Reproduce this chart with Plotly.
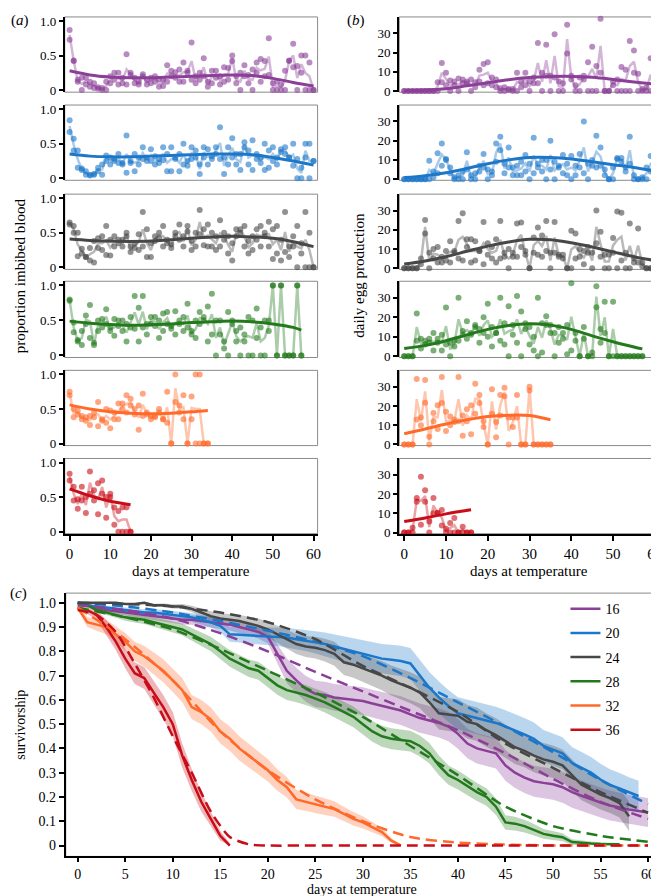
import plotly.graph_objects as go

# temperatures (deg C) and their colours
temps = [16, 20, 24, 28, 32, 36]
colours = ['#8b3f97', '#1c77c9', '#474747', '#237a1d', '#ff6a2b', '#c90d18']

# ---- panel (a): proportion imbibed blood, two observations per day ----
blood16_a = [0.87, 0.43, 0.12, 0.18, 0.08, 0.05, 0.03, 0.02, 0.0, 0.12, 0.2, 0.25, 0.08, 0.18, 0.52, 0.22, 0.1, 0.08, 0.2, 0.15,
             0.18, 0.12, 0.05, 0.15, 0.36, 0.2, 0.26, 0.3, 0.12, 0.25, 0.69, 0.2, 0.25, 0.46, 0.12, 0.28, 0.18, 0.2, 0.33, 0.15,
             0.5, 0.2, 0.0, 0.36, 0.22, 0.3, 0.4, 0.45, 0.2, 0.75, 0.1, 0.0, 0.08, 0.28, 0.43, 0.67, 0.35, 0.5, 0.5, 0.4, 0.0]
blood16_b = [0.73, 0.42, 0.15, 0.0, 0.18, 0.12, 0.1, 0.04, 0.03, 0.0, 0.1, 0.15, 0.25, 0.1, 0.08, 0.25, 0.18, 0.12, 0.23, 0.08,
             0.1, 0.2, 0.16, 0.06, 0.12, 0.28, 0.18, 0.12, 0.4, 0.28, 0.15, 0.1, 0.15, 0.2, 0.05, 0.1, 0.28, 0.08, 0.12, 0.32,
             0.42, 0.1, 0.25, 0.2, 0.1, 0.0, 0.25, 0.12, 0.42, 0.22, 0.0, 0.12, 0.0, 0.0, 0.42, 0.33, 0.0, 0.25, 0.0, 0.0, 0.0]
blood20_a = [0.84, 0.57, 0.4, 0.14, 0.05, 0.05, 0.06, 0.15, 0.2, 0.33, 0.3, 0.28, 0.35, 0.22, 0.62, 0.25, 0.1, 0.3, 0.45, 0.3,
             0.25, 0.32, 0.28, 0.45, 0.35, 0.45, 0.3, 0.1, 0.5, 0.25, 0.45, 0.3, 0.2, 0.45, 0.42, 0.28, 0.35, 0.74, 0.3, 0.45,
             0.58, 0.2, 0.35, 0.52, 0.4, 0.55, 0.28, 0.3, 0.5, 0.15, 0.45, 0.3, 0.38, 0.45, 0.3, 0.5, 0.28, 0.0, 0.5, 0.5, 0.25]
blood20_b = [0.67, 0.4, 0.15, 0.12, 0.1, 0.04, 0.05, 0.1, 0.05, 0.25, 0.2, 0.25, 0.22, 0.2, 0.08, 0.22, 0.35, 0.2, 0.28, 0.25,
             0.42, 0.2, 0.22, 0.26, 0.1, 0.1, 0.28, 0.35, 0.2, 0.18, 0.28, 0.4, 0.06, 0.3, 0.2, 0.32, 0.45, 0.28, 0.06, 0.2,
             0.3, 0.35, 0.12, 0.45, 0.2, 0.12, 0.35, 0.22, 0.12, 0.4, 0.25, 0.2, 0.42, 0.35, 0.3, 0.18, 0.0, 0.15, 0.3, 0.0, 0.25]
blood24_a = [0.65, 0.6, 0.5, 0.27, 0.15, 0.1, 0.07, 0.28, 0.45, 0.6, 0.17, 0.45, 0.35, 0.4, 0.5, 0.3, 0.35, 0.48, 0.8, 0.55,
             0.15, 0.45, 0.5, 0.6, 0.4, 0.33, 0.5, 0.62, 0.45, 0.6, 0.25, 0.5, 0.83, 0.55, 0.62, 0.3, 0.45, 0.68, 0.5, 0.45,
             0.1, 0.55, 0.5, 0.6, 0.2, 0.45, 0.55, 0.3, 0.45, 0.66, 0.55, 0.6, 0.1, 0.8, 0.3, 0.45, 0.6, 0.2, 0.8, 0.5, 0.0]
blood24_b = [0.62, 0.5, 0.16, 0.2, 0.15, 0.28, 0.38, 0.42, 0.25, 0.18, 0.4, 0.3, 0.4, 0.3, 0.45, 0.22, 0.28, 0.25, 0.3, 0.15,
             0.35, 0.38, 0.42, 0.3, 0.35, 0.28, 0.45, 0.4, 0.3, 0.52, 0.38, 0.3, 0.48, 0.32, 0.3, 0.5, 0.25, 0.3, 0.4, 0.2,
             0.35, 0.45, 0.55, 0.3, 0.38, 0.25, 0.4, 0.6, 0.5, 0.3, 0.12, 0.2, 0.4, 0.22, 0.15, 0.3, 0.0, 0.35, 0.0, 0.0, 0.0]
blood28_a = [0.8, 0.47, 0.22, 0.35, 0.57, 0.72, 0.18, 0.5, 0.52, 0.66, 0.4, 0.52, 0.5, 0.5, 0.2, 0.55, 0.85, 0.68, 0.85, 0.45,
             0.55, 0.55, 0.5, 0.6, 0.62, 0.42, 0.63, 0.5, 0.55, 0.74, 0.35, 0.5, 0.62, 0.55, 0.7, 0.88, 0.5, 0.3, 0.2, 0.62,
             0.5, 0.35, 0.4, 0.2, 0.55, 0.5, 0.67, 0.4, 0.5, 0.5, 1.0, 0.0, 1.0, 0.0, 0.0, 0.0, 1.0, 0.0]
blood28_b = [0.78, 0.33, 0.2, 0.15, 0.45, 0.25, 0.15, 0.35, 0.4, 0.45, 0.35, 0.28, 0.42, 0.35, 0.45, 0.4, 0.38, 0.2, 0.4, 0.3,
             0.45, 0.42, 0.25, 0.35, 0.45, 0.38, 0.3, 0.45, 0.35, 0.4, 0.3, 0.25, 0.45, 0.5, 0.2, 0.3, 0.0, 0.5, 0.1, 0.0,
             0.45, 0.2, 0.0, 0.3, 0.0, 0.0, 0.25, 0.0, 0.0, 0.35, 1.0, 0.0, 1.0, 0.0, 0.0, 0.0, 1.0, 0.0]
blood32_a = [0.75, 0.5, 0.48, 0.4, 0.38, 0.27, 0.45, 0.6, 0.33, 0.5, 0.22, 0.45, 0.35, 0.58, 0.7, 0.65, 0.5, 0.55, 0.72, 0.45,
             0.4, 0.4, 0.5, 0.35, 0.75, 0.0, 1.0, 0.55, 0.7, 0.0, 0.68, 1.0, 1.0, 0.0, 0.0]
blood32_b = [0.7, 0.38, 0.42, 0.35, 0.33, 0.4, 0.38, 0.25, 0.35, 0.3, 0.48, 0.35, 0.58, 0.5, 0.45, 0.55, 0.42, 0.2, 0.4, 0.42,
             0.35, 0.38, 0.45, 0.35, 0.3, 0.0, 0.6, 0.45, 0.35, 0.0, 0.35, 0.0, 0.0, 0.0, 0.0]
blood36_a = [0.84, 0.65, 0.33, 0.65, 0.27, 0.87, 0.6, 0.25, 0.74, 0.2, 0.55, 0.1, 0.0, 0.0, 0.0, 0.0]
blood36_b = [0.74, 0.45, 0.47, 0.45, 0.5, 0.55, 0.45, 0.7, 0.55, 0.5, 0.5, 0.35, 0.3, 0.35, 0.35, 0.0]

# smoothed fits (panel a)
fit_days = [0, 5, 10, 15, 20, 25, 30, 35, 40, 45, 50, 55, 60]
fit_days_28 = [0, 5, 10, 15, 20, 25, 30, 35, 40, 45, 50, 55, 57]
blood_fit_days_32 = [0, 5, 10, 15, 20, 25, 30, 34]
blood_fit_days_36 = [0, 5, 10, 15]
blood16_fit = [0.28, 0.22, 0.19, 0.18, 0.18, 0.19, 0.2, 0.21, 0.22, 0.21, 0.17, 0.11, 0.06]
blood20_fit = [0.35, 0.32, 0.31, 0.31, 0.32, 0.33, 0.34, 0.35, 0.35, 0.34, 0.3, 0.25, 0.19]
blood24_fit = [0.41, 0.39, 0.38, 0.375, 0.38, 0.4, 0.42, 0.44, 0.45, 0.44, 0.42, 0.37, 0.3]
blood28_fit = [0.49, 0.46, 0.44, 0.43, 0.44, 0.45, 0.47, 0.48, 0.49, 0.48, 0.45, 0.4, 0.36]
blood32_fit = [0.56, 0.5, 0.46, 0.44, 0.43, 0.44, 0.46, 0.48]
blood36_fit = [0.62, 0.52, 0.44, 0.39]

# ---- panel (b): daily egg production ----
eggs16_a = [0, 0, 0, 0, 0, 0, 0, 0, 4.5, 14.5, 9.5, 0, 5, 6.5, 6, 4, 0, 2, 11, 14, 15, 7, 2, 1.5, 0, 0.5, 1, 9.5, 2, 9.5,
            5, 7, 25, 9.5, 24, 8, 29.5, 5, 0, 34.5, 6, 0, 7, 6, 15, 23, 13, 37.5, 0, 0, 5, 0, 12.5, 0, 26, 21, 9, 0, 2, 17, 0]
eggs16_b = [0, 0, 0, 0, 0, 0, 0, 0, 0, 4.5, 3, 5.5, 3, 0, 4, 5, 6, 4.5, 5, 3, 4, 3, 6, 0, 2, 1, 0, 0, 5, 3,
            0, 4, 4, 0, 8, 0, 7, 0, 4, 19.5, 8, 3, 0, 8, 0, 0, 0, 9.5, 0, 0, 3, 6, 0, 11, 0, 9.5, 0, 1, 0, 0, 0]
eggs20_a = [0, 0, 0, 0, 0, 0, 9.5, 4, 13.5, 18.5, 10.5, 3, 1, 2, 4, 14, 2, 0, 4, 13, 5, 4, 18.5, 22, 8, 16.5, 6, 2, 2, 12.5,
            8, 21.5, 6, 10, 0, 20, 9, 6, 12.5, 2, 0, 7, 13, 30, 8, 7, 22.5, 16.5, 5, 0, 0, 10.5, 11, 4, 22, 0, 0, 0, 6, 12, 16]
eggs20_b = [0, 0, 0, 0, 0, 0, 0, 1, 3, 7, 10, 6, 0, 0, 0, 5, 0, 3, 7, 6, 0, 2, 9, 15, 3, 6, 2, 7, 9, 4,
            0, 3, 8, 4, 10, 5, 0, 7, 3, 8, 12, 2, 6, 3, 0, 10, 6, 7, 2, 0, 6, 11, 9, 6, 8, 2, 0, 1, 0, 4, 4]
eggs24_a = [0, 0, 0, 0, 5, 25, 8, 10, 11, 3, 9, 14, 8, 24.5, 28.6, 15, 15, 14, 9, 24, 13, 11, 15, 24.5, 8, 10, 6, 23.3, 23.8, 7,
            0, 16, 21.2, 17, 24.5, 8, 24, 6, 7, 0, 19.5, 18, 6, 9, 11, 8, 30, 19, 7, 0, 15.7, 29.5, 28.8, 8, 23.3, 5, 20.6, 3, 0, 0, 0]
eggs24_b = [0, 0, 0, 0, 2, 18, 0, 5, 3, 6, 4, 3, 9, 5, 4, 11, 3, 4, 9, 2, 7, 5, 3, 5, 6, 0, 8, 6, 11, 9,
            0, 8, 7, 6, 9, 0, 8, 7, 5, 0, 0, 5, 10, 2, 8, 0, 13, 6, 0, 7, 8, 0, 4, 0, 0, 3, 3, 1, 0, 0, 0]
eggs28_a = [0, 0, 0, 22, 9, 8, 7, 12, 9, 3, 25, 7, 8, 30, 13, 18, 11, 15, 14, 20, 27, 15, 12, 30, 17, 25.7, 16, 31, 23, 17,
            15, 10, 30, 17, 20.6, 16, 12, 15, 12, 16, 37.5, 12, 0, 15, 0, 2, 36, 14, 28, 0, 28, 0, 0, 0, 0, 0, 0, 0]
eggs28_b = [0, 0, 0, 8, 4, 6, 9, 3, 7, 11, 6, 0, 5, 8, 11, 9, 12, 16, 7, 12, 10, 5, 12, 8, 6, 0, 11, 7, 0, 14,
            6, 3, 0, 2, 16, 12, 0, 7, 9, 1, 3, 8, 0, 9, 0, 0, 25.2, 7, 12, 0, 0, 0, 0, 0, 0, 0, 0, 0]
eggs32_a = [0, 0, 0, 34, 14, 33.5, 4, 16.3, 20.3, 35, 17, 14.5, 11.7, 35, 4.5, 18.3, 20.3, 31.5, 25.7, 9,
            0, 28.7, 11.7, 25.7, 29.5, 0, 14, 25.7, 0, 0, 30, 0, 0, 0, 0, 0]
eggs32_b = [0, 0, 0, 13, 10, 21.7, 0, 12, 8, 21.5, 7, 10, 13, 12, 15, 12, 5.3, 16, 21.5, 12,
            0, 16, 3.7, 15, 25, 14, 9, 14, 0, 0, 28, 0, 0, 0, 0, 0]
eggs36_a = [0, 0, 2.5, 18, 29, 22, 5.8, 18, 10.3, 11.7, 0, 5, 7.5, 0, 3, 0, 0]
eggs36_b = [0, 0, 0, 16, 4, 16, 0, 10, 10, 3.7, 2, 0, 0, 0, 0, 0, 0]

egg_fit_days_32 = [0, 5, 10, 15, 20, 25, 30, 35]
egg_fit_days_36 = [0, 5, 10, 16]
eggs16_fit = [0.2, 0.5, 1.2, 2.7, 4.3, 5.9, 7.0, 7.5, 7.6, 7.1, 6.0, 4.7, 3.5]
eggs20_fit = [0.8, 1.8, 3.3, 5.5, 8.0, 10.0, 11.3, 11.3, 10.5, 9.0, 7.5, 6.0, 4.2]
eggs24_fit = [2.2, 3.8, 6.0, 8.8, 11.5, 13.6, 15.0, 14.8, 13.2, 11.0, 8.5, 6.0, 4.0]
eggs28_fit = [4.0, 5.6, 8.0, 11.0, 13.8, 15.8, 16.7, 16.0, 13.8, 10.5, 7.5, 4.8, 3.8]
eggs32_fit = [5.6, 8.0, 10.6, 12.8, 14.5, 15.2, 15.0, 12.8]
eggs36_fit = [5.7, 7.6, 9.7, 11.8]

# ---- panel (c): survivorship (observed, CI half-width, model fit) ----
surv16 = [1.0, 0.99, 0.98, 0.97, 0.965, 0.96, 0.955, 0.95, 0.945, 0.94, 0.935, 0.93, 0.93, 0.925, 0.92, 0.915, 0.91, 0.9, 0.89, 0.88,
          0.86, 0.79, 0.72, 0.68, 0.645, 0.625, 0.62, 0.61, 0.605, 0.6, 0.595, 0.585, 0.575, 0.565, 0.556, 0.54, 0.525, 0.515, 0.505, 0.49,
          0.46, 0.42, 0.4, 0.39, 0.38, 0.33, 0.3, 0.28, 0.265, 0.258, 0.252, 0.24, 0.22, 0.205, 0.19, 0.177, 0.165, 0.156, 0.148, 0.142, 0.136]
surv20 = [0.995, 0.99, 0.985, 0.98, 0.975, 0.97, 0.965, 0.96, 0.96, 0.955, 0.95, 0.945, 0.94, 0.93, 0.92, 0.905, 0.87, 0.868, 0.866, 0.865,
          0.862, 0.86, 0.857, 0.85, 0.845, 0.837, 0.83, 0.82, 0.81, 0.8, 0.79, 0.78, 0.77, 0.765, 0.76, 0.75, 0.7, 0.65, 0.61, 0.575,
          0.545, 0.535, 0.525, 0.515, 0.505, 0.49, 0.475, 0.458, 0.44, 0.41, 0.395, 0.38, 0.34, 0.32, 0.3, 0.272, 0.25, 0.235, 0.218, 0.204]
surv24 = [1.0, 1.0, 1.0, 1.0, 1.0, 0.995, 0.995, 1.0, 0.99, 0.99, 0.985, 0.985, 0.975, 0.96, 0.945, 0.935, 0.93, 0.925, 0.915, 0.905,
          0.89, 0.87, 0.85, 0.83, 0.82, 0.815, 0.805, 0.79, 0.755, 0.745, 0.73, 0.715, 0.7, 0.68, 0.665, 0.65, 0.63, 0.59, 0.545, 0.54,
          0.535, 0.51, 0.5, 0.475, 0.455, 0.43, 0.405, 0.39, 0.37, 0.355, 0.345, 0.33, 0.29, 0.25, 0.23, 0.21, 0.195, 0.175, 0.12]
surv28 = [1.0, 0.99, 0.97, 0.96, 0.95, 0.94, 0.935, 0.93, 0.92, 0.91, 0.9, 0.89, 0.87, 0.85, 0.83, 0.8, 0.77, 0.75, 0.73, 0.72,
          0.69, 0.66, 0.64, 0.63, 0.62, 0.605, 0.59, 0.57, 0.55, 0.53, 0.5, 0.47, 0.45, 0.44, 0.435, 0.43, 0.41, 0.38, 0.33, 0.29,
          0.27, 0.245, 0.22, 0.2, 0.16, 0.095, 0.09, 0.08, 0.065, 0.048, 0.04, 0.034, 0.014, 0.01, 0.008, 0.006, 0.005, 0.005]
surv32 = [0.98, 0.92, 0.91, 0.9, 0.87, 0.84, 0.8, 0.78, 0.75, 0.72, 0.68, 0.64, 0.57, 0.55, 0.52, 0.47, 0.44, 0.4, 0.37, 0.34,
          0.31, 0.27, 0.24, 0.19, 0.18, 0.17, 0.16, 0.15, 0.13, 0.11, 0.095, 0.075, 0.055, 0.02, 0.0]
surv36 = [0.98, 0.97, 0.95, 0.9, 0.84, 0.77, 0.71, 0.69, 0.63, 0.57, 0.5, 0.37, 0.27, 0.18, 0.11, 0.04, 0.0]

ci16 = [0.0, 0.005, 0.008, 0.01, 0.012, 0.013, 0.014, 0.015, 0.016, 0.017, 0.018, 0.019, 0.02, 0.021, 0.022, 0.023, 0.024, 0.025, 0.026, 0.027,
        0.028, 0.04, 0.05, 0.052, 0.053, 0.054, 0.055, 0.055, 0.056, 0.056, 0.057, 0.057, 0.058, 0.058, 0.059, 0.059, 0.06, 0.06, 0.06, 0.06,
        0.061, 0.061, 0.062, 0.062, 0.063, 0.063, 0.063, 0.064, 0.064, 0.064, 0.064, 0.064, 0.064, 0.063, 0.063, 0.062, 0.062, 0.061, 0.06, 0.06, 0.06]
ci20 = [0.0, 0.004, 0.006, 0.008, 0.01, 0.011, 0.012, 0.013, 0.014, 0.015, 0.016, 0.017, 0.018, 0.02, 0.022, 0.025, 0.03, 0.032, 0.034, 0.035,
        0.037, 0.038, 0.04, 0.042, 0.044, 0.046, 0.048, 0.05, 0.052, 0.054, 0.056, 0.058, 0.06, 0.062, 0.063, 0.064, 0.065, 0.065, 0.066, 0.066,
        0.066, 0.067, 0.067, 0.067, 0.067, 0.067, 0.067, 0.067, 0.067, 0.066, 0.066, 0.066, 0.066, 0.065, 0.065, 0.065, 0.064, 0.064, 0.063, 0.063]
ci24 = [0.0, 0.0, 0.0, 0.0, 0.0, 0.003, 0.003, 0.004, 0.006, 0.007, 0.009, 0.01, 0.013, 0.017, 0.02, 0.022, 0.024, 0.026, 0.028, 0.03,
        0.033, 0.036, 0.038, 0.041, 0.043, 0.045, 0.047, 0.049, 0.052, 0.054, 0.056, 0.058, 0.06, 0.062, 0.063, 0.064, 0.065, 0.066, 0.067, 0.068,
        0.068, 0.069, 0.069, 0.069, 0.069, 0.069, 0.069, 0.068, 0.068, 0.067, 0.067, 0.066, 0.065, 0.064, 0.063, 0.062, 0.061, 0.06, 0.06]
ci28 = [0.0, 0.004, 0.008, 0.01, 0.012, 0.014, 0.016, 0.017, 0.019, 0.02, 0.022, 0.024, 0.026, 0.028, 0.03, 0.032, 0.034, 0.035, 0.036, 0.037,
        0.038, 0.039, 0.04, 0.04, 0.041, 0.041, 0.042, 0.042, 0.042, 0.043, 0.043, 0.043, 0.043, 0.043, 0.043, 0.043, 0.043, 0.042, 0.041, 0.04,
        0.039, 0.038, 0.037, 0.036, 0.034, 0.03, 0.028, 0.026, 0.024, 0.02, 0.018, 0.016, 0.012, 0.01, 0.008, 0.007, 0.006, 0.005]
ci32 = [0.01, 0.02, 0.025, 0.03, 0.033, 0.036, 0.04, 0.042, 0.045, 0.047, 0.048, 0.05, 0.05, 0.05, 0.05, 0.05, 0.05, 0.05, 0.049, 0.048,
        0.046, 0.044, 0.042, 0.04, 0.038, 0.036, 0.034, 0.032, 0.03, 0.028, 0.025, 0.02, 0.017, 0.01, 0.005]
ci36 = [0.01, 0.015, 0.02, 0.03, 0.035, 0.04, 0.045, 0.045, 0.048, 0.05, 0.05, 0.05, 0.045, 0.04, 0.03, 0.02, 0.01]

surv_fit_days = [0, 5, 10, 15, 20, 25, 30, 35, 40, 45, 50, 55, 60]
surv_fit_days_36 = [0, 2, 4, 6, 8, 10, 12, 14, 16, 18, 20, 25, 30, 35, 40, 45, 50, 55, 60]
surv16_fit = [0.99, 0.97, 0.935, 0.875, 0.8, 0.715, 0.635, 0.555, 0.475, 0.38, 0.275, 0.18, 0.11]
surv20_fit = [1.0, 0.985, 0.96, 0.925, 0.885, 0.84, 0.78, 0.69, 0.59, 0.49, 0.385, 0.27, 0.17]
surv24_fit = [1.0, 0.995, 0.985, 0.96, 0.92, 0.85, 0.74, 0.65, 0.55, 0.42, 0.32, 0.22, 0.135]
surv28_fit = [0.98, 0.94, 0.89, 0.81, 0.72, 0.63, 0.53, 0.41, 0.29, 0.16, 0.08, 0.04, 0.015]
surv32_fit = [0.98, 0.85, 0.68, 0.47, 0.31, 0.19, 0.1, 0.035, 0.012, 0.004, 0.0, 0.0, 0.0]
surv36_fit = [0.97, 0.95, 0.88, 0.75, 0.61, 0.45, 0.3, 0.14, 0.035, 0.005, 0.0, 0.0, 0.0, 0.0, 0.0, 0.0, 0.0, 0.0, 0.0]

blood_obs = [(blood16_a, blood16_b), (blood20_a, blood20_b), (blood24_a, blood24_b),
             (blood28_a, blood28_b), (blood32_a, blood32_b), (blood36_a, blood36_b)]
blood_fits = [(fit_days, blood16_fit), (fit_days, blood20_fit), (fit_days, blood24_fit),
              (fit_days_28, blood28_fit), (blood_fit_days_32, blood32_fit), (blood_fit_days_36, blood36_fit)]
egg_obs = [(eggs16_a, eggs16_b), (eggs20_a, eggs20_b), (eggs24_a, eggs24_b),
           (eggs28_a, eggs28_b), (eggs32_a, eggs32_b), (eggs36_a, eggs36_b)]
egg_fits = [(fit_days, eggs16_fit), (fit_days, eggs20_fit), (fit_days, eggs24_fit),
            (fit_days_28, eggs28_fit), (egg_fit_days_32, eggs32_fit), (egg_fit_days_36, eggs36_fit)]
surv_obs = [(surv16, ci16), (surv20, ci20), (surv24, ci24), (surv28, ci28), (surv32, ci32), (surv36, ci36)]
surv_fits = [(surv_fit_days, surv16_fit), (surv_fit_days, surv20_fit), (surv_fit_days, surv24_fit),
             (surv_fit_days, surv28_fit), (surv_fit_days, surv32_fit), (surv_fit_days_36, surv36_fit)]


def rgba(hex_col, a):
    h = hex_col.lstrip('#')
    r, g, b = int(h[0:2], 16), int(h[2:4], 16), int(h[4:6], 16)
    return f'rgba({r},{g},{b},{a})'


def sfx(n):
    # plotly names the first axis 'x' / 'xaxis', the others 'x2' / 'xaxis2' ...
    return '' if n == 1 else str(n)


W, H = 659, 896
FONT = 'Liberation Serif, Times New Roman, DejaVu Serif, serif'


def xdom(p0, p1):
    return [p0 / W, p1 / W]


def ydom(p0, p1):
    return [1 - p1 / H, 1 - p0 / H]


rows_px = [(6, 82), (95, 171), (185, 261), (273, 350), (363, 439), (452, 528)]
fig = go.Figure()
layout = {}
shapes = []


def add_daily(obs, fit, col, n):
    a, b = obs
    k = min(len(a), len(b))
    days = list(range(k))
    mean = [(u + v) / 2 for u, v in zip(a[:k], b[:k])]
    ax = dict(xaxis='x' + sfx(n), yaxis='y' + sfx(n), showlegend=False, hoverinfo='skip')
    fig.add_trace(go.Scatter(x=days, y=mean, mode='lines', line=dict(color=rgba(col, 0.38), width=2.5),
                             cliponaxis=False, **ax))
    fig.add_trace(go.Scatter(x=days + days, y=a[:k] + b[:k], mode='markers',
                             marker=dict(color=rgba(col, 0.6), size=6), cliponaxis=False, **ax))
    fig.add_trace(go.Scatter(x=fit[0], y=fit[1], mode='lines', line=dict(color=col, width=3, shape='spline'), **ax))


tickfont_y = dict(family=FONT, size=13, color='black')
tickfont_x = dict(family=FONT, size=15, color='black')
tickfont_c = dict(family=FONT, size=14, color='black')

for col_i, (obs_set, fit_set, xpx, yticks, yrange) in enumerate([
        (blood_obs, blood_fits, (57, 311), ([0, 0.5, 1], ['0', '0.5', '1.0']), [-0.03, 1.06]),
        (egg_obs, egg_fits, (393, 654), ([0, 10, 20, 30], ['0', '10', '20', '30']), [-0.6, 38.5])]):
    for r in range(6):
        n = col_i * 6 + r + 1
        add_daily(obs_set[r], fit_set[r], colours[r], n)
        bottom = r == 5
        layout['xaxis' + sfx(n)] = dict(
            domain=xdom(*xpx), anchor='y' + sfx(n), range=[-1.2, 61], showgrid=False, zeroline=False,
            tickvals=list(range(0, 61, 10)) if bottom else [], showticklabels=bottom,
            ticks='outside' if bottom else '', ticklen=5, tickwidth=1.5, tickcolor='black',
            showline=bottom, linecolor='black', linewidth=2, tickfont=tickfont_x)
        layout['yaxis' + sfx(n)] = dict(
            domain=ydom(*rows_px[r]), anchor='x' + sfx(n), range=yrange, showgrid=False, zeroline=False,
            tickvals=yticks[0], ticktext=yticks[1], ticks='outside', ticklen=4, tickwidth=1.5,
            tickcolor='black', showline=True, linecolor='black', linewidth=2, tickfont=tickfont_y)
        shapes.append(dict(type='rect', xref=f'x{sfx(n)} domain', yref=f'y{sfx(n)} domain', x0=0, x1=1, y0=0, y1=1,
                           line=dict(color='#8a8a8a', width=1), layer='below'))

# panel (c)
ax = dict(xaxis='x13', yaxis='y13')
for (s, ci), col in zip(surv_obs, colours):
    k = min(len(s), len(ci))
    days = list(range(k))
    hi = [v + h for v, h in zip(s, ci)]
    lo = [max(v - h, 0) for v, h in zip(s, ci)]
    fig.add_trace(go.Scatter(x=days + days[::-1], y=hi + lo[::-1], mode='lines', fill='toself',
                             fillcolor=rgba(col, 0.3), line=dict(width=0), showlegend=False,
                             hoverinfo='skip', **ax))
for (s, ci), col, t in zip(surv_obs, colours, temps):
    fig.add_trace(go.Scatter(x=list(range(len(s))), y=s, mode='lines', name=str(t), legendgroup=str(t),
                             line=dict(color=col, width=2.5), **ax))
for (fx, fy), col in zip(surv_fits, colours):
    fig.add_trace(go.Scatter(x=fx, y=fy, mode='lines', showlegend=False, hoverinfo='skip',
                             line=dict(color=col, width=2.5, dash='11px,6px', shape='spline', smoothing=0.7), **ax))

layout['xaxis13'] = dict(domain=xdom(58, 655), anchor='y13', range=[-1.26, 61.26], showgrid=False, zeroline=False,
                         tickvals=list(range(0, 61, 5)), ticks='outside', ticklen=4, tickwidth=1.5, tickcolor='black',
                         showline=True, linecolor='black', linewidth=2, tickfont=tickfont_c)
layout['yaxis13'] = dict(domain=ydom(588, 854), anchor='x13', range=[-0.045, 1.04], showgrid=False, zeroline=False,
                         tickvals=[i / 10 for i in range(11)],
                         ticktext=['0'] + [f'{i / 10:.1f}' for i in range(1, 11)],
                         ticks='outside', ticklen=5, tickwidth=1.5, tickcolor='black',
                         showline=True, linecolor='black', linewidth=2, tickfont=tickfont_c)
shapes.append(dict(type='rect', xref='x13 domain', yref='y13 domain', x0=0, x1=1, y0=0, y1=1,
                   line=dict(color='#8a8a8a', width=1), layer='below'))


def note(text, px, py, size=15, **kw):
    return dict(text=text, x=px / W, y=1 - py / H, xref='paper', yref='paper', showarrow=False,
                font=dict(family=FONT, size=size, color='black'), **kw)


annotations = [
    note('(<i>a</i>)', 1, 10, xanchor='left', yanchor='middle'),
    note('(<i>b</i>)', 339, 10, xanchor='left', yanchor='middle'),
    note('(<i>c</i>)', 0, 588, xanchor='left', yanchor='middle'),
    note('proportion imbibed blood', 12, 267, textangle=-90, xanchor='center', yanchor='middle'),
    note('daily egg production', 353, 267, textangle=-90, xanchor='center', yanchor='middle'),
    note('days at temperature', 184, 566, xanchor='center', yanchor='middle'),
    note('days at temperature', 523, 566, xanchor='center', yanchor='middle'),
    note('survivorship', 13, 721, size=14, textangle=-90, xanchor='center', yanchor='middle'),
    note('days at temperature', 356, 887, size=14, xanchor='center', yanchor='middle'),
]

fig.update_layout(
    width=W, height=H, margin=dict(l=0, r=0, t=0, b=0),
    paper_bgcolor='white', plot_bgcolor='white',
    font=dict(family=FONT, color='black'),
    shapes=shapes, annotations=annotations,
    legend=dict(x=560 / W, y=1 - 588 / H, xanchor='left', yanchor='top', bgcolor='rgba(0,0,0,0)',
                font=dict(family=FONT, size=14, color='black'), itemwidth=30,
                traceorder='grouped', tracegroupgap=3),
    **layout)

fig.write_html("out.html")
